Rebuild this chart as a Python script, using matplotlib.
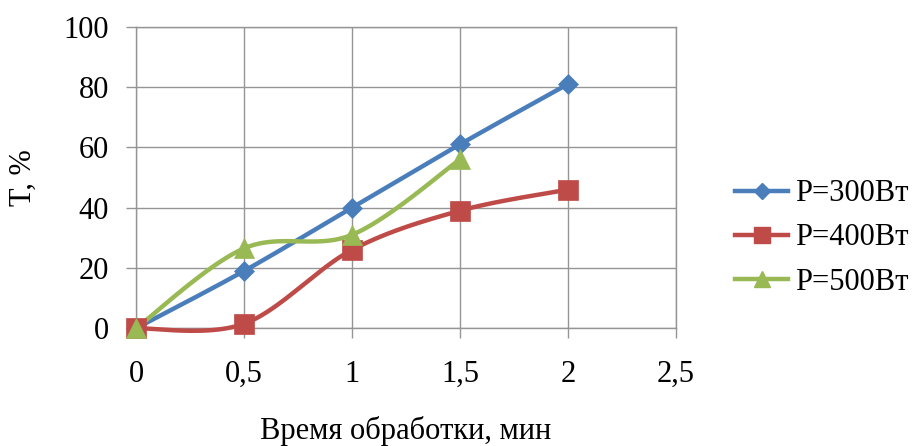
import numpy as np
import matplotlib.pyplot as plt
from matplotlib.ticker import FuncFormatter

# время обработки, мин
t = [0, 0.5, 1, 1.5, 2]
t_500 = [0, 0.5, 1, 1.5]

# пропускание T, %
T_300 = [0, 19, 40, 61, 81]
T_400 = [0, 1.5, 26, 39, 46]
T_500 = [0, 26.5, 31, 56]

labels = ['P=300Вт', 'P=400Вт', 'P=500Вт']
colors = ['#4A7EBB', '#BE4B48', '#98B954']
markers = ['D', 's', '^']
msizes = [10, 14, 14]


def smooth(x, y, n=40):
    # сглаживание как в Excel: кривые Безье через точки (Catmull-Rom)
    p = np.column_stack([x, y]).astype(float)
    ext = np.vstack([p[0], p, p[-1]])
    out = []
    s = np.linspace(0, 1, n)[:, None]
    for i in range(len(p) - 1):
        p0, p1, p2, p3 = ext[i], ext[i + 1], ext[i + 2], ext[i + 3]
        c1 = p1 + (p2 - p0) / 6
        c2 = p2 - (p3 - p1) / 6
        seg = ((1 - s) ** 3) * p1 + 3 * ((1 - s) ** 2) * s * c1 \
            + 3 * (1 - s) * s ** 2 * c2 + s ** 3 * p2
        out.append(seg if i == 0 else seg[1:])
    out = np.vstack(out)
    return out[:, 0], out[:, 1]


plt.rcParams['font.family'] = ['Liberation Serif', 'DejaVu Serif']

fig = plt.figure(figsize=(9.14, 4.46), dpi=100)
ax = fig.add_axes([0.1488, 0.2639, 0.5908, 0.6761])

series = [(t, T_300), (t, T_400), (t_500, T_500)]
for (x, y), lab, c, m, ms in zip(series, labels, colors, markers, msizes):
    sx, sy = smooth(x, y)
    ax.plot(sx, sy, color=c, lw=3.2, solid_capstyle='round', zorder=3,
            clip_on=False)
    ax.plot(x, y, ls='none', marker=m, ms=ms, color=c, mec=c, mew=0.5,
            zorder=4, clip_on=False)
    ax.plot([], [], color=c, lw=3.2, marker=m, ms=ms * 0.8, label=lab)

ax.set_xlim(0, 2.5)
ax.set_ylim(0, 100)
ax.set_xticks(np.arange(0, 2.51, 0.5))
ax.set_yticks(np.arange(0, 101, 20))
ax.xaxis.set_major_formatter(FuncFormatter(lambda v, _: f'{v:g}'.replace('.', ',')))

grid_c = '#959595'
ax.grid(True, color=grid_c, lw=1)
ax.set_axisbelow(True)
for sp in ax.spines.values():
    sp.set_color(grid_c)
    sp.set_linewidth(1)
ax.tick_params(axis='both', direction='out', length=7.5, width=1, color=grid_c,
               labelsize=22)
ax.tick_params(axis='x', pad=15)
ax.tick_params(axis='y', pad=12)

ax.set_xlabel('Время обработки, мин', fontsize=22)
ax.xaxis.set_label_coords(0.5, -0.34)
ax.xaxis.label.set_va('center')
ax.set_ylabel('T, %', fontsize=22)
ax.yaxis.set_label_coords(-0.209, 0.5)
ax.yaxis.label.set_va('center')

fig.legend(loc='center left', bbox_to_anchor=(735 / 914, 1 - 238 / 446),
           frameon=False, fontsize=22, borderpad=0, borderaxespad=0,
           handlelength=1.75, handletextpad=0.2, labelspacing=0.5)

fig.savefig('out.png', dpi=100)
